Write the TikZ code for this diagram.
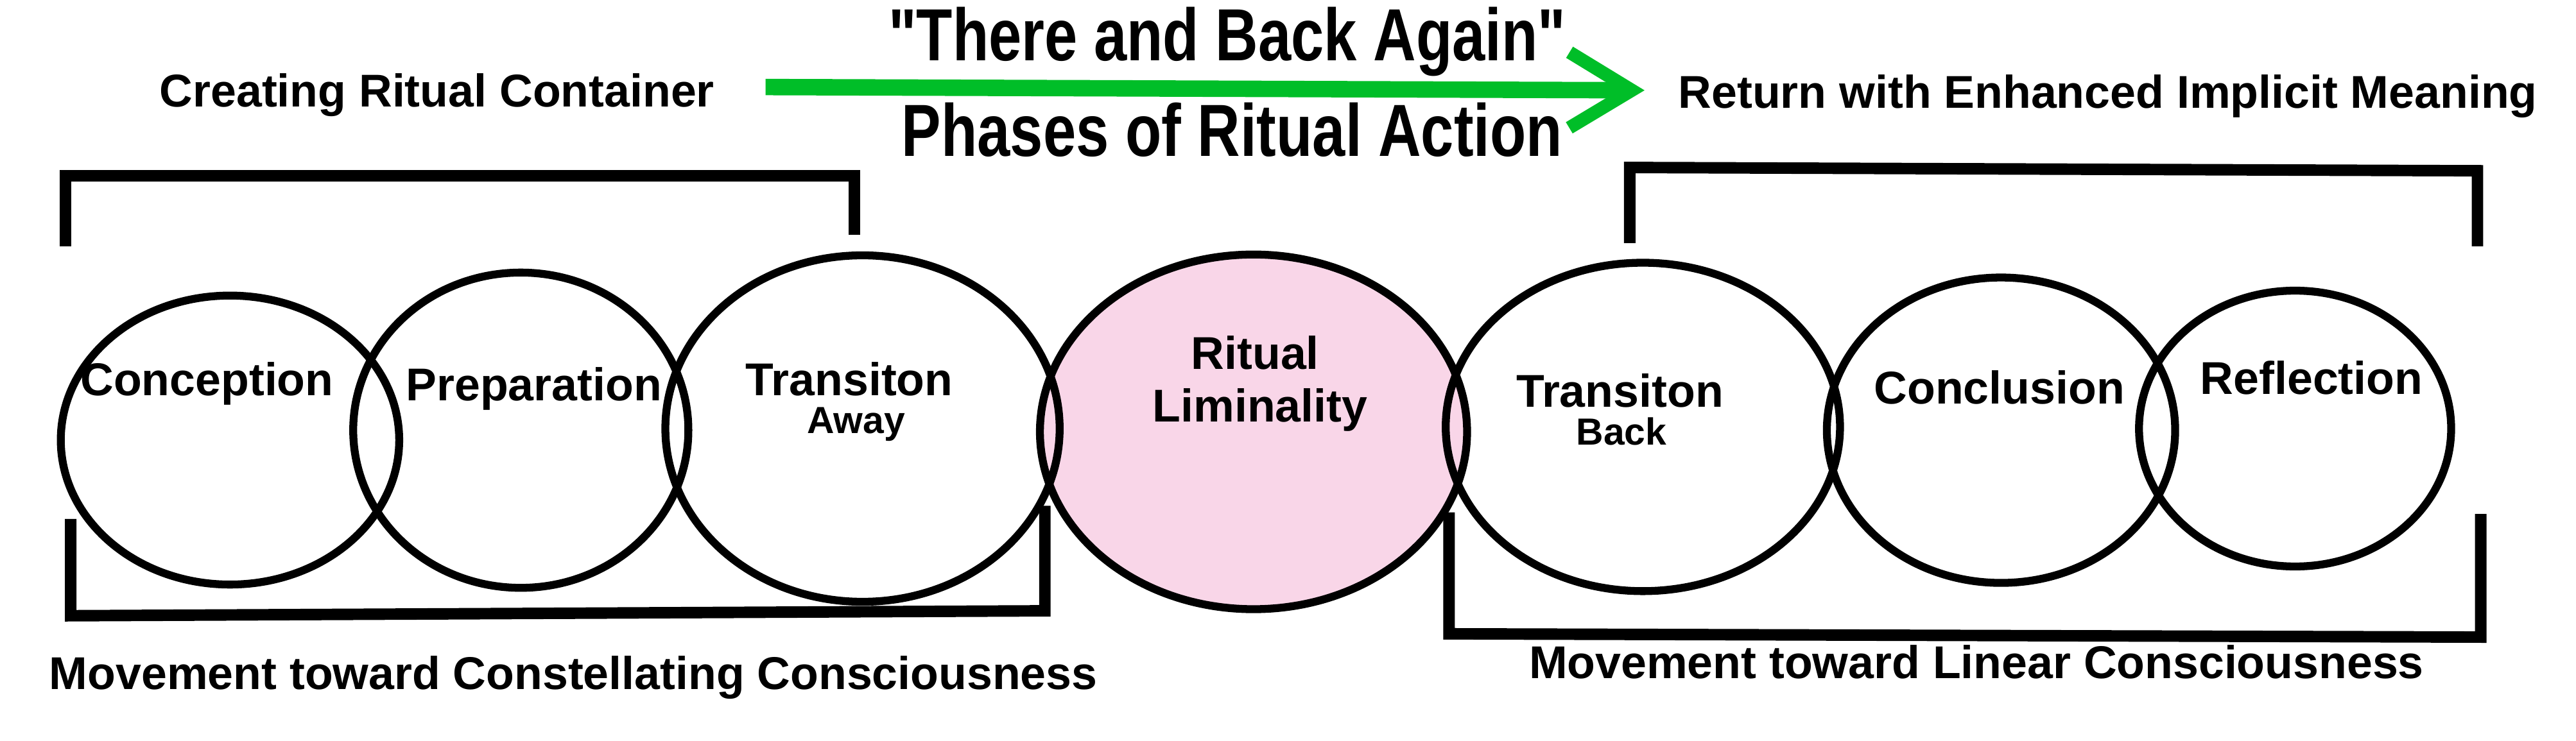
\documentclass[tikz,border=0pt]{standalone}
\usepackage{fontspec}
\setmainfont{Liberation Sans}
\usetikzlibrary{arrows.meta,shapes.geometric}
\definecolor{arrowgreen}{RGB}{0,190,40}
\definecolor{liminalpink}{RGB}{249,214,232}

\begin{document}
\begin{tikzpicture}[x=1pt, y=-1pt,
  phase/.style={ellipse, draw=black, line width=4.8pt, inner sep=0pt},
  txt/.style={font=\bfseries\fontsize{28}{30}\selectfont, anchor=base, inner sep=0pt},
  subtxt/.style={font=\bfseries\fontsize{23}{25}\selectfont, anchor=base, inner sep=0pt},
  title/.style={font=\bfseries\fontsize{36}{38}\selectfont, anchor=base, inner sep=0pt, yscale=1.25, transform shape},
  bracket/.style={line width=7pt}]
\useasboundingbox (0,0) rectangle (1568,451);

% phases, the pink one first so the others lie on top
\node[phase, fill=liminalpink, minimum width=260pt, minimum height=216pt] (liminal) at (763,263) {};
\node[phase, minimum width=206pt, minimum height=176pt] (conception) at (140,268) {};
\node[phase, minimum width=204pt, minimum height=192pt] (preparation) at (317,262) {};
\node[phase, minimum width=240pt, minimum height=211pt] (away) at (525,261) {};
\node[phase, minimum width=240pt, minimum height=200pt] (back) at (1000,260) {};
\node[phase, minimum width=212pt, minimum height=186pt] (conclusion) at (1218,262) {};
\node[phase, minimum width=190pt, minimum height=168pt] (reflection) at (1397,261) {};

% labels in the phases
\node[txt] (conceptionlbl) at (126,241) {Conception};
\node[txt] (preparationlbl) at (325,244) {Preparation};
\node[txt] (awaylbl) at (517,241) {Transiton};
\node[subtxt] (awaysub) at (521,264) {Away};
\node[txt] (ritual) at (764,225) {Ritual};
\node[txt] (liminality) at (767,257) {Liminality};
\node[txt] (backlbl) at (986,248) {Transiton};
\node[subtxt] (backsub) at (987,271) {Back};
\node[txt] (conclusionlbl) at (1217,246) {Conclusion};
\node[txt] (reflectionlbl) at (1407,240) {Reflection};

% top line
\node[txt] (container) at (266,65) {Creating Ritual Container};
\node[txt] (return) at (1283,66) {Return with Enhanced Implicit Meaning};
\node[title] (there) at (747,37) {\textquotedbl There and Back Again\textquotedbl};
\node[title] (phases) at (750,95) {Phases of Ritual Action};
\coordinate (arrowstart) at (466,53);
\coordinate (arrowend) at (1001,55);
\draw[arrowgreen, line width=10pt, -{Straight Barb[length=38pt, width=46pt, line width=8pt]}] (arrowstart) -- (arrowend);

% brackets
\draw[bracket] (40,150) -- (40,107) -- (520,107) -- (520,143);
\draw[bracket] (992,148) -- (992,102) -- (1508,104) -- (1508,150);
\draw[bracket] (43,316) -- (43,375) -- (636,372) -- (636,308);
\draw[bracket] (882,312) -- (882,386) -- (1510,388) -- (1510,313);

% bottom line
\node[txt] (constellating) at (349,420) {Movement toward Constellating Consciousness};
\node[txt] (linear) at (1203,413) {Movement toward Linear Consciousness};
\end{tikzpicture}
\end{document}
